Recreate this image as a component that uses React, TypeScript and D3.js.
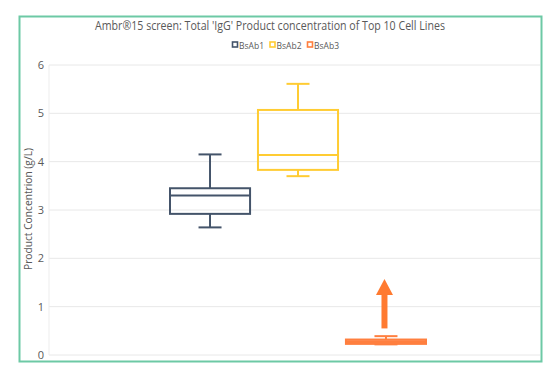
import React from "react";
import * as d3 from "d3";

const series = ["BsAb1", "BsAb2", "BsAb3"];
const colors = ["#44546A", "#FFCC33", "#FF7F3F"];
const whiskerLow = [2.64, 3.70, 0.22];
const q1 = [2.92, 3.83, 0.23];
const median = [3.30, 4.14, 0.27];
const q3 = [3.45, 5.07, 0.32];
const whiskerHigh = [4.15, 5.61, 0.39];
const yTicks = [0, 1, 2, 3, 4, 5, 6];
const arrowFrom = 0.55;
const arrowTo = 1.57;

const W = 555, H = 378;
const font = "'Open Sans', 'Liberation Sans', sans-serif";

export default function App() {
  const y = d3.scaleLinear().domain([0, 6]).range([355, 65]);
  const x = d3.scaleBand<string>().domain(series).range([170, 426]).paddingInner(0.09);
  const plotL = 49, plotR = 540;
  const arrowX = (x("BsAb3") ?? 0) + x.bandwidth() / 2 - 1.5;
  return (
    <svg width={W} height={H} style={{ position: "absolute", left: 0, top: 0 }}>
      <rect x={0} y={0} width={W} height={H} fill="#fff" />
      <rect x={19.5} y={16.5} width={522} height={345} fill="#fff" stroke="#6DC9A5" strokeWidth={2} />
      <text x={270} y={30} textAnchor="middle" fontFamily={font} fontSize={12.5} fill="#595959"
        textLength={350} lengthAdjust="spacingAndGlyphs">
        Ambr®15 screen: Total 'IgG' Product concentration of Top 10 Cell Lines
      </text>
      {series.map((s, i) => {
        const lx = 232.5 + i * 37.5;
        return (
          <g key={s}>
            <rect x={lx} y={42} width={5} height={5} fill="#fff" stroke={colors[i]} strokeWidth={1.6} />
            <text x={lx + 6.5} y={48.5} fontFamily={font} fontSize={9.5} fill="#595959"
              textLength={25} lengthAdjust="spacingAndGlyphs">{s}</text>
          </g>
        );
      })}
      {yTicks.map((t) => (
        <g key={t}>
          <line x1={plotL} x2={plotR} y1={y(t)} y2={y(t)} stroke="#E8E8E8" strokeWidth={1} />
          <text x={44} y={y(t) + 4} textAnchor="end" fontFamily={font} fontSize={11} fill="#595959">{t}</text>
        </g>
      ))}
      <line x1={plotL} x2={plotL} y1={y(6)} y2={y(0)} stroke="#EDEDED" strokeWidth={1} />
      <text transform={`translate(32,${y(3) - 1}) rotate(-90)`} textAnchor="middle" fontFamily={font} fontSize={10.5} fill="#595959"
        textLength={122} lengthAdjust="spacingAndGlyphs">
        Product Concentrion (g/L)
      </text>
      {series.map((s, i) => {
        const x0 = x(s) ?? 0;
        const bw = x.bandwidth();
        const cx = x0 + bw / 2;
        const cap = 11.5;
        const c = colors[i];
        return (
          <g key={s} stroke={c} strokeWidth={2} fill="none">
            <line x1={cx} x2={cx} y1={y(whiskerHigh[i])} y2={y(q3[i])} />
            <line x1={cx} x2={cx} y1={y(q1[i])} y2={y(whiskerLow[i])} />
            <line x1={cx - cap} x2={cx + cap} y1={y(whiskerHigh[i])} y2={y(whiskerHigh[i])} />
            <line x1={cx - cap} x2={cx + cap} y1={y(whiskerLow[i])} y2={y(whiskerLow[i])} />
            <rect x={x0} y={y(q3[i])} width={bw} height={y(q1[i]) - y(q3[i])} fill={i === 2 ? c : "none"} fillOpacity={i === 2 ? 0.85 : 0} />
            <line x1={x0} x2={x0 + bw} y1={y(median[i])} y2={y(median[i])} />
          </g>
        );
      })}
      <line x1={arrowX} x2={arrowX} y1={y(arrowFrom)} y2={y(arrowTo) + 14} stroke="#FF7A30" strokeWidth={6} />
      <polygon
        points={`${arrowX - 8.5},${y(arrowTo) + 16} ${arrowX + 8.5},${y(arrowTo) + 16} ${arrowX},${y(arrowTo)}`}
        fill="#FF7A30"
      />
    </svg>
  );
}
